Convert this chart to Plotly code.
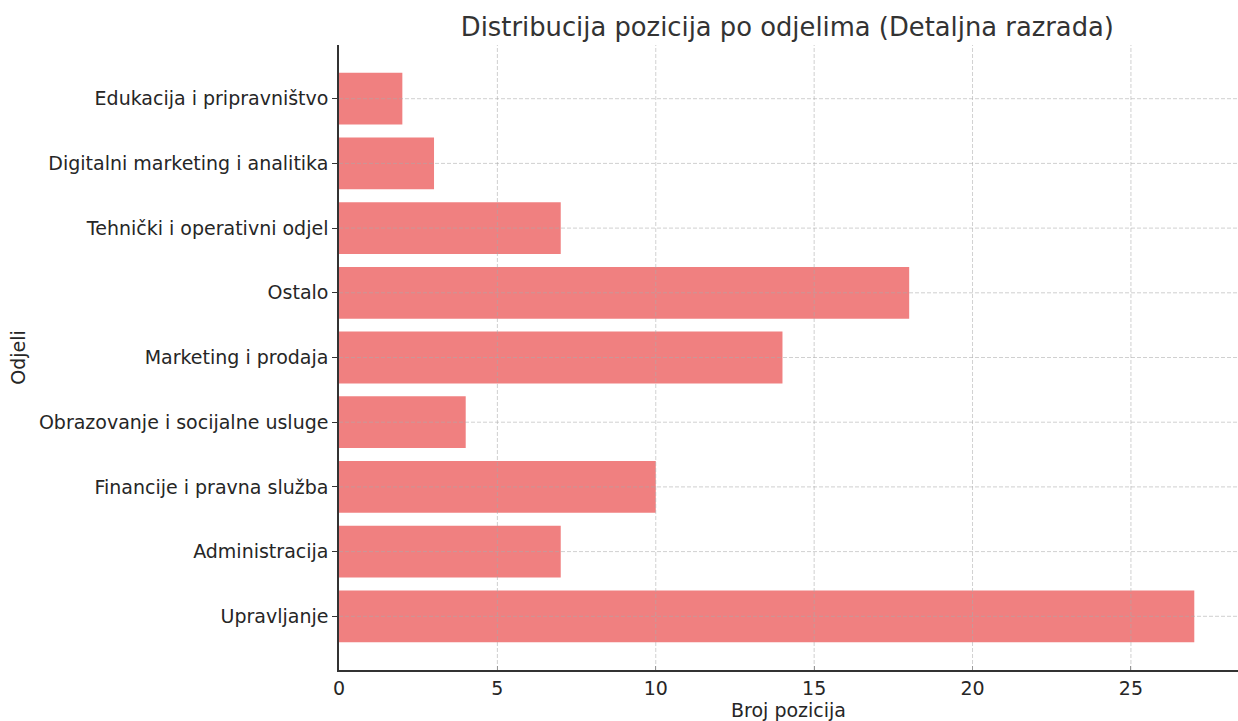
import plotly.graph_objects as go

departments = [
    "Upravljanje",
    "Administracija",
    "Financije i pravna služba",
    "Obrazovanje i socijalne usluge",
    "Marketing i prodaja",
    "Ostalo",
    "Tehnički i operativni odjel",
    "Digitalni marketing i analitika",
    "Edukacija i pripravništvo",
]
counts = [27, 7, 10, 4, 14, 18, 7, 3, 2]
x_ticks = [0, 5, 10, 15, 20, 25]

fig = go.Figure(
    go.Bar(
        x=counts,
        y=departments,
        orientation="h",
        width=0.8,
        marker=dict(color="#F08080", line=dict(width=0)),
    )
)

grid_col = "rgba(170,170,170,0.55)"
# grid drawn above bars (as in reference)
for t in x_ticks[1:]:
    fig.add_shape(type="line", xref="x", yref="paper", x0=t, x1=t, y0=0, y1=1,
                  line=dict(color=grid_col, width=1, dash="4px,2px"), layer="above")
for d in departments:
    fig.add_shape(type="line", xref="paper", yref="y", x0=0, x1=1, y0=d, y1=d,
                  line=dict(color=grid_col, width=1, dash="4px,2px"), layer="above")

font = "DejaVu Sans, sans-serif"
fig.update_layout(
    width=1238,
    height=721,
    margin=dict(l=339, r=0, t=45, b=51),
    paper_bgcolor="white",
    plot_bgcolor="white",
    font=dict(family=font, size=19, color="#262626"),
    title=dict(
        text="Distribucija pozicija po odjelima (Detaljna razrada)",
        x=0.636, xanchor="center", y=0.963, yanchor="middle",
        font=dict(size=25.8, color="#333333"),
    ),
    showlegend=False,
    bargap=0.2,
)
fig.update_xaxes(
    range=[0, 28.38],
    tickvals=x_ticks,
    ticks="inside", ticklen=4, tickcolor="#888888", tickwidth=1,
    showline=True, linecolor="#333333", linewidth=1.5,
    showgrid=False,
    zeroline=False,
    title=dict(text="Broj pozicija", standoff=6, font=dict(size=19)),
    automargin=False,
)
fig.update_yaxes(
    range=[-0.83, 8.83],
    categoryorder="array", categoryarray=departments,
    ticks="outside", ticklen=5, tickcolor="#333333", tickwidth=1,
    showline=True, linecolor="#333333", linewidth=1.5,
    showgrid=False,
    zeroline=False,
    title=dict(text="Odjeli", standoff=8, font=dict(size=19)),
    automargin=False,
)

fig.write_html("out.html")
